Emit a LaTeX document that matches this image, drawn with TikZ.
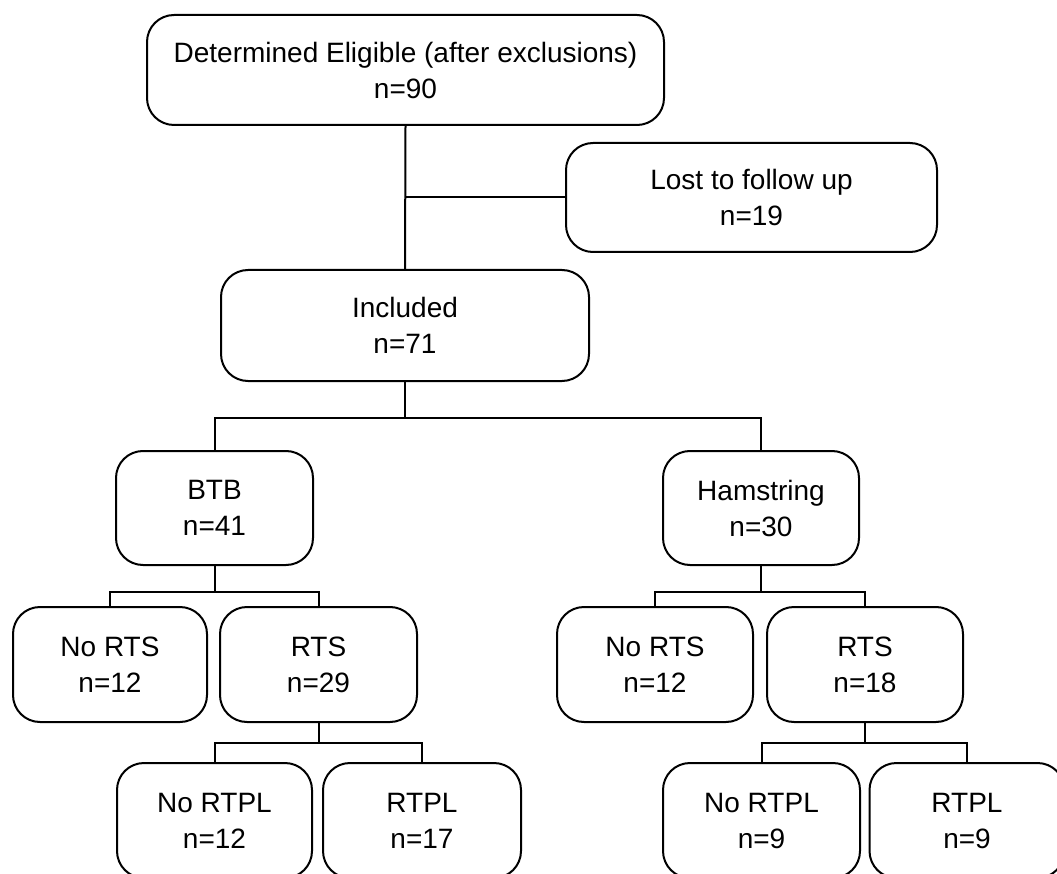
\documentclass[tikz,border=0pt]{standalone}
\usepackage{fontspec}
\setmainfont{Liberation Sans}
\begin{document}
\begin{tikzpicture}[x=1pt,y=-1pt,
  box/.style={draw=black, line width=2pt, rounded corners=27pt, align=center,
    inner sep=0pt, font=\fontsize{28}{36}\selectfont, minimum height=114pt},
  link/.style={draw=black, line width=2pt}]
\useasboundingbox (0,0) rectangle (1057,874);
\clip (0,0) rectangle (1057,874);
% nodes
\node[box, minimum width=517pt, minimum height=110pt] (top) at (405.5,70) {Determined Eligible (after exclusions)\\n=90};
\node[box, minimum width=371pt, minimum height=109pt] (lost) at (751.5,197.5) {Lost to follow up\\n=19};
\node[box, minimum width=368pt, minimum height=111pt] (incl) at (405,325.5) {Included\\n=71};
\node[box, minimum width=197pt] (btb) at (214.5,508) {BTB\\n=41};
\node[box, minimum width=196pt] (ham) at (761,508) {Hamstring\\n=30};
\node[box, minimum width=194pt, minimum height=115pt] (nortsL) at (110,664.5) {No RTS\\n=12};
\node[box, minimum width=197pt, minimum height=115pt] (rtsL) at (318.5,664.5) {RTS\\n=29};
\node[box, minimum width=196pt, minimum height=115pt] (nortsR) at (655,664.5) {No RTS\\n=12};
\node[box, minimum width=196pt, minimum height=115pt] (rtsR) at (865,664.5) {RTS\\n=18};
\node[box, minimum width=195pt, minimum height=115pt] (nortplL) at (214.5,820.5) {No RTPL\\n=12};
\node[box, minimum width=198pt, minimum height=115pt] (rtplL) at (422,820.5) {RTPL\\n=17};
\node[box, minimum width=197pt, minimum height=115pt] (nortplR) at (761.5,820.5) {No RTPL\\n=9};
\node[box, minimum width=195pt, minimum height=115pt] (rtplR) at (967,820.5) {RTPL\\n=9};
% connectors
\draw[link] (top.south) -- (incl.north);
\draw[link] (lost.west) -- (top.south |- lost.west);
\draw[link] (incl.south) -- ++(0,36) coordinate (j1);
\draw[link] (btb.north) |- (j1) -| (ham.north);
\draw[link] (btb.south) -- ++(0,26) coordinate (j2);
\draw[link] (nortsL.north) |- (j2) -| (rtsL.north);
\draw[link] (ham.south) -- ++(0,26) coordinate (j3);
\draw[link] (nortsR.north) |- (j3) -| (rtsR.north);
\draw[link] (rtsL.south) -- ++(0,20) coordinate (j4);
\draw[link] (nortplL.north) |- (j4) -| (rtplL.north);
\draw[link] (rtsR.south) -- ++(0,20) coordinate (j5);
\draw[link] (nortplR.north) |- (j5) -| (rtplR.north);
\end{tikzpicture}
\end{document}
